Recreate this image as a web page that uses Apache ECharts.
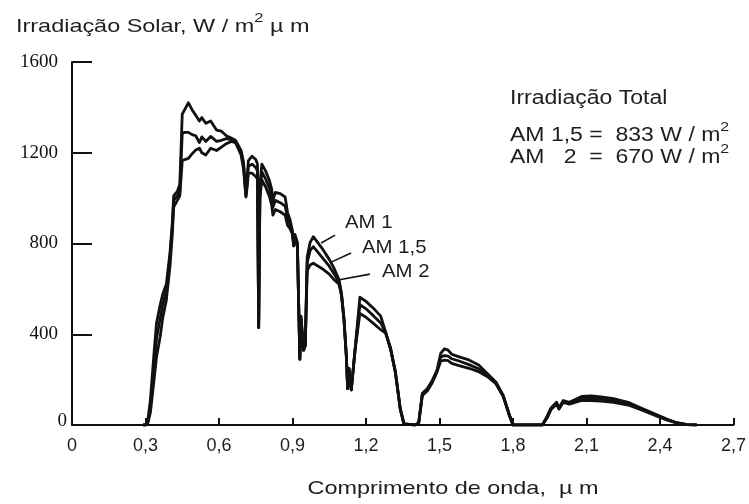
<!DOCTYPE html>
<html>
<head>
<meta charset="utf-8">
<script src="https://cdn.jsdelivr.net/npm/echarts@6/dist/echarts.min.js"></script>
<style>
  html, body { margin: 0; padding: 0; background: #ffffff; }
  #chart { width: 749px; height: 504px; }
</style>
</head>
<body>
<div id="chart"></div>
<script>
// Wavelength grid (µm) shared by the three air-mass spectra
const wavelength = [
  0.29, 0.30, 0.31, 0.32, 0.335, 0.345, 0.36, 0.37, 0.385, 0.40,
  0.41, 0.415, 0.43, 0.44, 0.45, 0.46, 0.475, 0.49, 0.505, 0.52,
  0.53, 0.546, 0.566, 0.59, 0.61, 0.63, 0.65, 0.667, 0.69, 0.70,
  0.71, 0.715, 0.72, 0.735, 0.75, 0.757, 0.762, 0.767, 0.775, 0.79,
  0.805, 0.815, 0.82, 0.83, 0.85, 0.87, 0.88, 0.89, 0.90, 0.905,
  0.91, 0.92, 0.93, 0.935, 0.945, 0.952, 0.96, 0.972, 0.985, 1.02,
  1.05, 1.07, 1.09, 1.10, 1.11, 1.12, 1.125, 1.13, 1.14, 1.155,
  1.175, 1.20, 1.23, 1.26, 1.28, 1.30, 1.32, 1.34, 1.355, 1.40,
  1.415, 1.43, 1.44, 1.45, 1.47, 1.49, 1.505, 1.52, 1.535, 1.55,
  1.58, 1.62, 1.66, 1.70, 1.73, 1.76, 1.785, 1.80, 1.92, 1.94,
  1.955, 1.978, 1.988, 2.005, 2.03, 2.08, 2.12, 2.16, 2.21, 2.27,
  2.33, 2.38, 2.43, 2.47, 2.51, 2.55
];

// Spectral irradiance, W / m² µm
const am1 = [
  0, 0, 25, 110, 320, 450, 530, 575, 620, 760,
  900, 1010, 1030, 1060, 1370, 1390, 1420, 1390, 1365, 1340,
  1355, 1330, 1340, 1300, 1295, 1275, 1265, 1255, 1210, 1160,
  1015, 1090, 1165, 1185, 1170, 1150, 430, 1060, 1150, 1120,
  1080, 1040, 990, 1025, 1020, 1005, 935, 905, 855, 790,
  840, 805, 290, 480, 330, 350, 740, 805, 830, 780,
  730, 690, 640, 580, 470, 300, 160, 250, 155, 330,
  563, 545, 515, 480, 410, 340, 235, 70, 5, 0,
  10, 140, 150, 160, 195, 242, 316, 336, 330, 312,
  300, 287, 265, 222, 190, 130, 45, 0, 0, 40,
  75, 100, 75, 108, 100, 126, 128, 124, 116, 100,
  72, 48, 25, 10, 2, 0
];

const am15 = [
  0, 0, 15, 80, 260, 380, 470, 530, 590, 740,
  880, 990, 1010, 1030, 1285, 1290, 1290, 1280, 1275, 1245,
  1270, 1250, 1272, 1250, 1255, 1262, 1258, 1250, 1200, 1145,
  1010, 1070, 1140, 1150, 1135, 1120, 430, 1030, 1115, 1085,
  1045, 1005, 960, 990, 980, 965, 910, 885, 850, 790,
  830, 795, 290, 470, 330, 350, 715, 770, 786, 740,
  700, 665, 630, 575, 468, 300, 160, 250, 155, 328,
  530, 512, 482, 450, 408, 338, 233, 70, 5, 0,
  8, 135, 145, 155, 190, 238, 300, 306, 304, 292,
  282, 266, 248, 216, 186, 128, 44, 0, 0, 36,
  72, 96, 72, 104, 96, 118, 118, 115, 108, 94,
  68, 45, 23, 9, 2, 0
];

const am2 = [
  0, 0, 10, 55, 200, 300, 390, 470, 550, 700,
  850, 960, 990, 1010, 1165, 1170, 1175, 1195, 1212, 1220,
  1200, 1190, 1220, 1210, 1225, 1240, 1250, 1245, 1190, 1130,
  1005, 1050, 1110, 1110, 1095, 1085, 430, 1000, 1080, 1050,
  1010, 970, 925, 950, 940, 925, 880, 865, 840, 790,
  820, 785, 290, 460, 330, 350, 680, 705, 713, 690,
  665, 640, 620, 570, 465, 300, 160, 250, 155, 325,
  492, 475, 448, 420, 405, 335, 230, 70, 5, 0,
  6, 130, 140, 150, 185, 234, 282, 286, 284, 272,
  262, 250, 235, 210, 182, 126, 43, 0, 0, 32,
  68, 92, 70, 100, 92, 108, 108, 105, 100, 88,
  64, 42, 21, 8, 2, 0
];

// Axis tick labels
const xTickLabels = ['0', '0,3', '0,6', '0,9', '1,2', '1,5', '1,8', '2,1', '2,4', '2,7'];
const yTickLabels = ['0', '400', '800', '1200', '1600'];

// Curve names and the leader lines pointing at each curve [wavelength, irradiance]
const curveNames = ['AM 1', 'AM 1,5', 'AM 2'];
const leaderStart = [[1.017, 802], [1.058, 718], [1.086, 639]];
const leaderEnd = [[1.074, 837], [1.139, 758], [1.216, 665]];

// Integrated totals
const totalTitle = 'Irradiação Total';
const totalLabels = ['AM 1,5 =  ', 'AM   2  =  '];
const totalValues = [833, 670];

const INK = '#111111';
const TEXT = '#1e1e1e';
const SANS = "'Liberation Sans', Arial, sans-serif";
const SERIF = "'Liberation Serif', 'Times New Roman', serif";
const NARROW = "'Liberation Sans Narrow', 'Liberation Sans', sans-serif";

const seriesValues = [am1, am15, am2];

const series = seriesValues.map(function (vals, k) {
  return {
    name: curveNames[k],
    type: 'line',
    showSymbol: false,
    symbol: 'none',
    animation: false,
    lineStyle: { color: INK, width: 2.8, join: 'round' },
    data: wavelength.map(function (w, i) { return [w, vals[i]]; }),
    markLine: {
      silent: true,
      symbol: 'none',
      label: { show: false },
      lineStyle: { color: INK, width: 1.6, type: 'solid' },
      data: [[{ coord: leaderStart[k] }, { coord: leaderEnd[k] }]]
    },
    z: 3
  };
});

// Text with a raised "2" exponent
function supText(parts, size, supSize) {
  return {
    text: '{n|' + parts[0] + '}{s|2}' + (parts[1] ? '{n|' + parts[1] + '}' : ''),
    rich: {
      n: { fontSize: size, fontFamily: SANS, fill: TEXT, lineHeight: size * 1.6 },
      s: { fontSize: supSize, fontFamily: SANS, fill: TEXT, verticalAlign: 'top', lineHeight: supSize }
    }
  };
}

const graphic = [];

// Vertical axis title
graphic.push({
  type: 'text', x: 16, y: 27, scaleX: 1.26, z: 10,
  style: Object.assign(supText(['Irradiação Solar, W / m', ' µ m'], 18.6, 13), { verticalAlign: 'middle', align: 'left' })
});

// Horizontal axis title
graphic.push({
  type: 'text', x: 453, y: 489, scaleX: 1.26, z: 10,
  style: { text: 'Comprimento de onda,  µ m', fontSize: 18.6, fontFamily: SANS, fill: TEXT, align: 'center', verticalAlign: 'middle' }
});

// Totals block
graphic.push({
  type: 'text', x: 510, y: 99, scaleX: 1.18, z: 10,
  style: { text: totalTitle, fontSize: 19.5, fontFamily: SANS, fill: TEXT, align: 'left', verticalAlign: 'middle' }
});
totalValues.forEach(function (v, i) {
  graphic.push({
    type: 'text', x: 510, y: 136 + i * 22, scaleX: 1.18, z: 10,
    style: Object.assign(supText([totalLabels[i] + v + ' W / m', ''], 19.5, 13.5), { verticalAlign: 'middle', align: 'left' })
  });
});

// Curve labels
const curveLabelPos = [[345, 223], [362, 248], [382, 272]];
curveNames.forEach(function (n, i) {
  graphic.push({
    type: 'text', x: curveLabelPos[i][0], y: curveLabelPos[i][1], scaleX: 1.1, z: 10,
    style: { text: n, fontSize: 18.5, fontFamily: SANS, fill: TEXT, align: 'left', verticalAlign: 'middle' }
  });
});

const option = {
  backgroundColor: '#ffffff',
  animation: false,
  grid: { left: 72, right: 11, top: 62, bottom: 79, containLabel: false },
  xAxis: {
    type: 'value',
    min: 0,
    max: 2.7,
    interval: 0.3,
    axisLine: { show: true, lineStyle: { color: INK, width: 2 } },
    axisTick: { show: true, inside: true, length: 7, lineStyle: { color: INK, width: 2 } },
    splitLine: { show: false },
    axisLabel: {
      color: TEXT,
      fontFamily: NARROW,
      fontSize: 18,
      margin: 12,
      formatter: function (v) { return xTickLabels[Math.round(v / 0.3)]; }
    }
  },
  yAxis: {
    type: 'value',
    min: 0,
    max: 1600,
    interval: 400,
    axisLine: { show: true, lineStyle: { color: INK, width: 2 } },
    axisTick: { show: true, inside: true, length: 20, lineStyle: { color: INK, width: 2 } },
    splitLine: { show: false },
    axisLabel: {
      color: '#111111',
      fontFamily: SERIF,
      fontSize: 19,
      margin: 5,
      formatter: function (v) {
        const t = yTickLabels[Math.round(v / 400)];
        return v === 0 ? '{z|' + t + '}' : '{p|' + t + '}';
      },
      rich: {
        z: { fontFamily: SERIF, fontSize: 19, color: '#111111', padding: [0, 0, 8, 0] },
        p: { fontFamily: SERIF, fontSize: 19, color: '#111111', padding: [0, 9, 0, 0] }
      }
    }
  },
  series: series,
  graphic: graphic
};

const chart = echarts.init(document.getElementById('chart'), null, { renderer: 'canvas' });
chart.setOption(option);
</script>
</body>
</html>
